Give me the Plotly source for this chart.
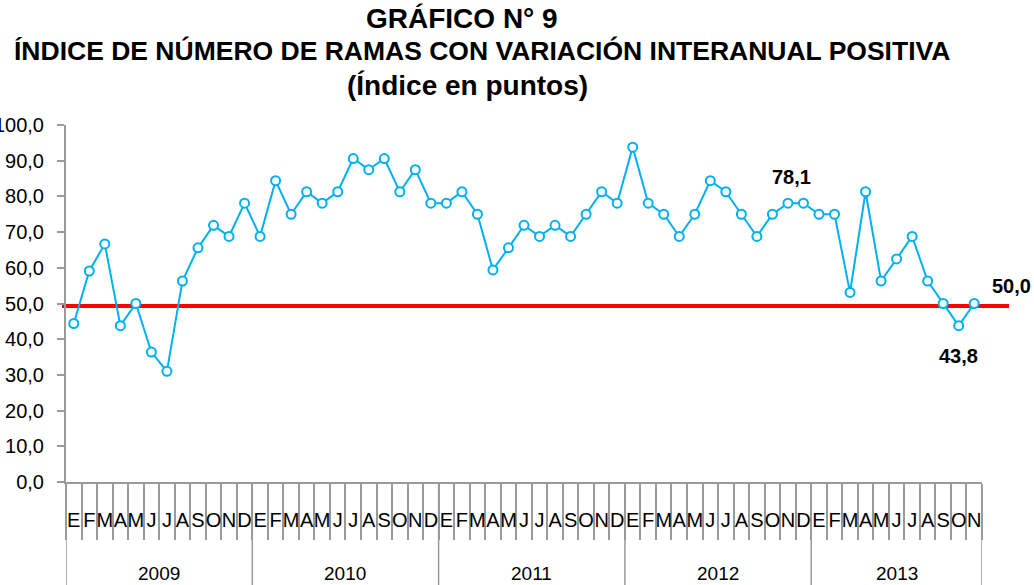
import plotly.graph_objects as go

years = ["2009", "2010", "2011", "2012", "2013"]
month_letters = ["E", "F", "M", "A", "M", "J", "J", "A", "S", "O", "N", "D"]

v2009 = [44.4, 59.1, 66.7, 43.8, 50.0, 36.4, 31.0, 56.3, 65.6, 71.9, 68.8, 78.1]
v2010 = [68.8, 84.4, 75.0, 81.3, 78.1, 81.3, 90.6, 87.5, 90.6, 81.3, 87.5, 78.1]
v2011 = [78.1, 81.3, 75.0, 59.4, 65.6, 71.9, 68.8, 71.9, 68.8, 75.0, 81.3, 78.1]
v2012 = [93.8, 78.1, 75.0, 68.8, 75.0, 84.4, 81.3, 75.0, 68.8, 75.0, 78.1, 78.1]
v2013 = [75.0, 75.0, 53.1, 81.3, 56.3, 62.5, 68.8, 56.3, 50.0, 43.8, 50.0]

threshold = 49.3
labelled = {46: (4, 26), 57: (0, -30), 58: (37, 18)}  # index: (xshift, yshift)

title_lines = ["GRÁFICO N° 9",
               "ÍNDICE DE NÚMERO DE RAMAS CON VARIACIÓN INTERANUAL POSITIVA",
               "(Índice en puntos)"]

series = [v2009, v2010, v2011, v2012, v2013]
cats, ticktext, values, year_bounds = [], [], [], []
for yr, vals in zip(years, series):
    start = len(cats)
    for i, v in enumerate(vals):
        cats.append(f"{yr}-{i+1:02d}")
        ticktext.append(month_letters[i])
        values.append(v)
    year_bounds.append((yr, start, len(cats) - 1))

FONT = "Liberation Sans, Arial, sans-serif"
BLUE = "#00B0F0"
GRAY = "#9A9A9A"

W, H = 1034, 585
ML, MR, MT, MB = 66, 52, 125, 103
PW, PH = W - ML - MR, H - MT - MB


def px_to_paper_x(px):
    return (px - ML) / PW


def px_to_paper_y(py):
    return (H - MB - py) / PH


fig = go.Figure()
fig.add_trace(go.Scatter(
    x=cats, y=values, mode="lines+markers",
    line=dict(color=BLUE, width=2),
    marker=dict(symbol="circle", size=9, color="white", line=dict(color=BLUE, width=2)),
    cliponaxis=False, showlegend=False, hoverinfo="skip",
))

shapes = [dict(type="line", xref="paper", yref="y", x0=px_to_paper_x(62), x1=px_to_paper_x(1009),
               y0=threshold, y1=threshold, line=dict(color="#FF0000", width=4), layer="below")]
annotations = []
for yr, s, e in year_bounds:
    shapes.append(dict(type="line", xref="x", yref="paper", x0=s - 0.5, x1=s - 0.5,
                       y0=0, y1=-0.3, line=dict(color=GRAY, width=1.5)))
    annotations.append(dict(x=(s + e) / 2, y=px_to_paper_y(573), xref="x", yref="paper", text=yr,
                            showarrow=False, yanchor="middle",
                            font=dict(family=FONT, size=19, color="black")))
last = year_bounds[-1][2]
shapes.append(dict(type="line", xref="x", yref="paper", x0=last + 0.5, x1=last + 0.5,
                   y0=0, y1=-0.3, line=dict(color=GRAY, width=1.5)))

for idx, (dx, dy) in labelled.items():
    annotations.append(dict(x=cats[idx], y=values[idx], xref="x", yref="y",
                            text="<b>" + f"{values[idx]:.1f}".replace(".", ",") + "</b>",
                            showarrow=False, xshift=dx, yshift=dy,
                            font=dict(family=FONT, size=20, color="black")))

# title lines: (center x px, center y px, font size)
for text, (cx, cy, fs) in zip(title_lines, [(462, 19, 28), (482, 51, 26.5), (467, 86, 28)]):
    annotations.append(dict(x=px_to_paper_x(cx), y=px_to_paper_y(cy), xref="paper", yref="paper",
                            text=f"<b>{text}</b>", showarrow=False,
                            xanchor="center", yanchor="middle",
                            font=dict(family=FONT, size=fs, color="black")))

fig.update_layout(
    width=W, height=H,
    margin=dict(l=ML, r=MR, t=MT, b=MB, autoexpand=False),
    paper_bgcolor="white", plot_bgcolor="rgba(0,0,0,0)",
    separators=",.",
    hovermode=False,
    xaxis=dict(
        type="category", categoryorder="array", categoryarray=cats,
        tickmode="array", tickvals=cats, ticktext=ticktext, tickangle=0,
        tickson="boundaries", ticks="outside", ticklen=56, tickwidth=1.5, tickcolor=GRAY,
        ticklabelstandoff=19, automargin=False,
        showline=True, linecolor=GRAY, linewidth=2, showgrid=False, zeroline=False,
        range=[-0.5, 58.5],
        tickfont=dict(family=FONT, size=20, color="black"),
    ),
    yaxis=dict(
        range=[0, 100], dtick=10, tick0=0, tickformat=".1f",
        ticks="outside", ticklen=7, tickwidth=1.5, tickcolor=GRAY,
        showline=True, linecolor=GRAY, linewidth=2, showgrid=False, zeroline=False,
        tickfont=dict(family=FONT, size=20, color="black"),
        ticklabelstandoff=9, automargin=False,
    ),
    shapes=shapes, annotations=annotations,
)

fig.write_html("out.html", config={"displayModeBar": False},
               post_script="document.body.style.margin='0';document.body.style.overflow='hidden';")
